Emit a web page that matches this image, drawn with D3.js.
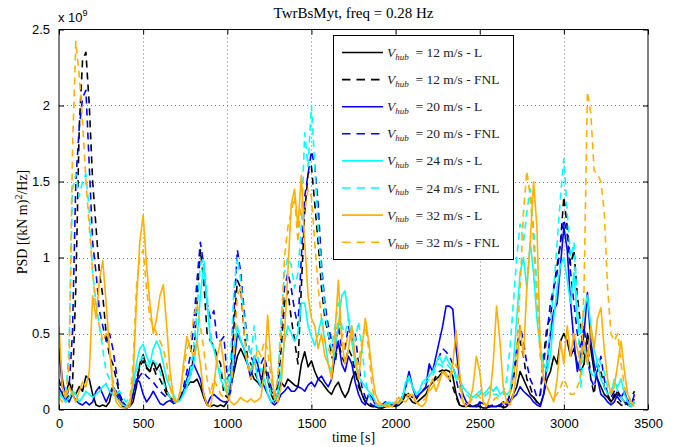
<!DOCTYPE html>
<html>
<head>
<meta charset="utf-8">
<script src="https://cdn.jsdelivr.net/npm/d3@7"></script>
<style>
  html, body { margin: 0; padding: 0; background: #fff; }
  svg { display: block; }
</style>
</head>
<body>
<svg id="chart" width="677" height="447"></svg>
<script>
// Tower-base moment PSD at 0.28 Hz, sampled every 20 s (values in 1e9 (kN m)^2/Hz)
const timeStep = 20;

const l12 = [
  0.40,0.15,0.10,0.18,0.12, 0.10,0.15,0.12,0.22,0.20, 0.10,0.03,0.02,0.03,0.02, 0.05,0.15,0.10,0.05,0.02,
  0.01,0.02,0.05,0.15,0.30, 0.36,0.28,0.25,0.32,0.26, 0.30,0.22,0.12,0.08,0.06, 0.05,0.07,0.12,0.15,0.18,
  0.18,0.20,0.15,0.08,0.03, 0.02,0.03,0.02,0.03,0.02, 0.05,0.15,0.25,0.35,0.40, 0.35,0.30,0.25,0.20,0.18,
  0.15,0.30,0.20,0.10,0.05, 0.10,0.18,0.15,0.20,0.18, 0.16,0.15,0.30,0.38,0.28, 0.32,0.25,0.20,0.18,0.15,
  0.12,0.10,0.15,0.18,0.12, 0.08,0.12,0.20,0.25,0.18, 0.10,0.05,0.03,0.02,0.02, 0.01,0.01,0.02,0.02,0.03,
  0.02,0.03,0.05,0.10,0.08, 0.05,0.04,0.06,0.08,0.10, 0.15,0.18,0.20,0.22,0.25, 0.26,0.25,0.22,0.10,0.03,
  0.02,0.03,0.02,0.02,0.03, 0.02,0.01,0.01,0.02,0.02, 0.02,0.03,0.01,0.02,0.05, 0.10,0.15,0.25,0.20,0.15,
  0.10,0.08,0.05,0.03,0.10, 0.20,0.25,0.35,0.30,0.45, 0.50,0.45,0.35,0.40,0.30, 0.25,0.30,0.50,0.40,0.25,
  0.20,0.15,0.10,0.08,0.05, 0.08,0.12,0.08,0.05,0.03, 0.02,0.05
];
const fnl12 = [
  0.20,0.10,0.05,0.10,0.15, 0.80,1.85,2.30,2.35,2.00, 1.50,1.20,0.90,0.75,0.50, 0.35,0.30,0.20,0.10,0.05,
  0.02,0.03,0.10,0.20,0.28, 0.32,0.27,0.25,0.28,0.22, 0.20,0.15,0.10,0.08,0.06, 0.05,0.08,0.12,0.18,0.22,
  0.35,0.70,1.05,0.85,0.50, 0.45,0.42,0.35,0.30,0.10, 0.08,0.20,0.55,0.85,0.80, 0.50,0.35,0.30,0.25,0.20,
  0.20,0.25,0.20,0.12,0.10, 0.15,0.40,0.70,0.78,0.60, 0.45,0.30,0.80,1.30,1.55, 1.60,1.35,1.10,0.80,0.60,
  0.50,0.35,0.30,0.45,0.35, 0.30,0.40,0.35,0.25,0.15, 0.10,0.05,0.03,0.02,0.02, 0.02,0.01,0.02,0.03,0.02,
  0.03,0.05,0.08,0.12,0.10, 0.08,0.06,0.10,0.12,0.14, 0.16,0.18,0.22,0.25,0.26, 0.24,0.20,0.15,0.08,0.03,
  0.02,0.02,0.03,0.02,0.02, 0.02,0.01,0.02,0.02,0.03, 0.03,0.02,0.02,0.04,0.10, 0.20,0.35,0.45,0.35,0.20,
  0.15,0.08,0.05,0.10,0.35, 0.55,0.60,0.80,0.95,1.10, 1.40,1.20,0.95,1.05,0.75, 0.55,0.30,0.45,0.20,0.10,
  0.30,0.25,0.15,0.10,0.05, 0.10,0.05,0.03,0.02,0.05, 0.08,0.12
];
const l20 = [
  0.40,0.20,0.08,0.05,0.10, 0.06,0.04,0.03,0.05,0.03, 0.05,0.12,0.15,0.10,0.05, 0.10,0.15,0.12,0.08,0.03,
  0.01,0.02,0.10,0.20,0.18, 0.10,0.05,0.08,0.12,0.08, 0.04,0.03,0.05,0.06,0.04, 0.05,0.08,0.12,0.20,0.28,
  0.30,0.25,0.20,0.10,0.03, 0.08,0.10,0.08,0.06,0.05, 0.05,0.12,0.30,0.50,0.45, 0.40,0.30,0.20,0.35,0.30,
  0.20,0.15,0.10,0.05,0.03, 0.05,0.10,0.12,0.15,0.12, 0.12,0.15,0.14,0.12,0.16, 0.18,0.15,0.20,0.22,0.18,
  0.15,0.20,0.35,0.45,0.30, 0.25,0.35,0.30,0.18,0.10, 0.05,0.03,0.10,0.08,0.03, 0.02,0.03,0.05,0.03,0.04,
  0.03,0.05,0.08,0.15,0.25, 0.15,0.08,0.10,0.12,0.15, 0.30,0.25,0.35,0.45,0.55, 0.68,0.68,0.66,0.40,0.20,
  0.10,0.05,0.03,0.02,0.02, 0.05,0.04,0.03,0.02,0.02, 0.02,0.03,0.05,0.03,0.05, 0.08,0.10,0.15,0.12,0.10,
  0.08,0.05,0.03,0.02,0.10, 0.30,0.50,0.65,0.70,0.95, 1.20,1.05,0.70,0.45,0.25, 0.35,0.50,0.77,0.45,0.30,
  0.20,0.10,0.08,0.05,0.03, 0.05,0.10,0.08,0.12,0.05, 0.03,0.10
];
const fnl20 = [
  0.15,0.10,0.05,0.15,0.50, 1.50,1.85,2.05,2.10,1.60, 1.10,0.90,0.65,0.55,0.45, 0.50,0.40,0.25,0.10,0.05,
  0.02,0.05,0.10,0.18,0.22, 0.25,0.22,0.20,0.18,0.15, 0.12,0.10,0.08,0.06,0.05, 0.05,0.08,0.15,0.25,0.35,
  0.55,0.85,1.10,0.95,0.70, 0.60,0.65,0.45,0.45,0.48, 0.20,0.25,0.65,1.05,0.90, 0.65,0.45,0.35,0.30,0.25,
  0.30,0.35,0.25,0.15,0.08, 0.15,0.50,0.80,0.90,0.80, 0.65,0.55,1.00,1.40,1.55, 1.70,1.60,1.35,0.95,0.70,
  0.55,0.45,0.38,0.55,0.40, 0.40,0.55,0.45,0.50,0.30, 0.15,0.08,0.05,0.03,0.02, 0.02,0.03,0.03,0.04,0.03,
  0.03,0.05,0.08,0.15,0.22, 0.15,0.10,0.10,0.12,0.15, 0.28,0.25,0.30,0.35,0.40, 0.38,0.35,0.30,0.20,0.10,
  0.05,0.03,0.03,0.02,0.02, 0.04,0.03,0.02,0.02,0.03, 0.02,0.03,0.04,0.03,0.10, 0.25,0.40,0.55,0.45,0.30,
  0.20,0.15,0.08,0.10,0.30, 0.50,0.70,0.80,0.90,1.10, 1.25,1.15,0.90,0.70,0.50, 0.40,0.55,0.35,0.20,0.15,
  0.25,0.35,0.20,0.10,0.08, 0.12,0.08,0.05,0.03,0.05, 0.08,0.06
];
const l24 = [
  0.10,0.08,0.05,0.08,0.12, 0.10,0.05,0.08,0.12,0.10, 0.08,0.10,0.12,0.15,0.17, 0.12,0.10,0.08,0.05,0.03,
  0.02,0.05,0.15,0.30,0.40, 0.43,0.35,0.30,0.40,0.45, 0.40,0.30,0.20,0.15,0.10, 0.05,0.06,0.10,0.15,0.22,
  0.30,0.45,0.75,0.95,0.70, 0.45,0.40,0.30,0.20,0.15, 0.10,0.20,0.40,0.55,0.45, 0.40,0.30,0.25,0.35,0.20,
  0.15,0.20,0.10,0.05,0.06, 0.10,0.25,0.45,0.55,0.50, 0.45,0.50,0.70,0.70,0.55, 0.48,0.42,0.50,0.60,0.45,
  0.30,0.25,0.40,0.55,0.75, 0.78,0.60,0.45,0.30,0.22, 0.18,0.15,0.12,0.10,0.05, 0.03,0.02,0.04,0.05,0.04,
  0.05,0.04,0.08,0.18,0.22, 0.15,0.10,0.12,0.18,0.20, 0.22,0.25,0.30,0.35,0.30, 0.35,0.30,0.28,0.22,0.20,
  0.15,0.12,0.10,0.08,0.10, 0.12,0.10,0.12,0.15,0.12, 0.15,0.10,0.12,0.10,0.12, 0.30,0.60,0.90,1.00,0.80,
  1.10,0.90,0.60,0.40,0.30, 0.25,0.35,0.60,0.80,0.95, 1.00,0.85,0.70,0.90,0.60, 0.50,0.65,0.75,0.55,0.40,
  0.30,0.20,0.15,0.10,0.12, 0.18,0.15,0.20,0.10,0.05, 0.03,0.05
];
const fnl24 = [
  0.12,0.08,0.10,0.40,1.45, 1.55,1.40,1.50,1.55,1.30, 0.90,0.70,0.55,0.40,0.25, 0.20,0.15,0.10,0.12,0.08,
  0.05,0.08,0.15,0.25,0.32, 0.35,0.30,0.28,0.32,0.30, 0.25,0.18,0.12,0.08,0.05, 0.05,0.06,0.10,0.18,0.25,
  0.40,0.65,0.95,1.00,0.75, 0.50,0.40,0.30,0.25,0.20, 0.15,0.35,0.80,1.00,0.85, 0.60,0.45,0.35,0.55,0.35,
  0.25,0.30,0.20,0.10,0.08, 0.20,0.60,0.90,1.00,0.95, 0.80,0.90,1.20,1.82,1.60, 2.00,1.60,1.20,0.90,0.65,
  0.50,0.40,0.55,0.70,0.55, 0.50,0.60,0.55,0.45,0.58, 0.40,0.20,0.10,0.05,0.03, 0.02,0.03,0.04,0.03,0.05,
  0.05,0.04,0.08,0.15,0.20, 0.15,0.10,0.12,0.15,0.18, 0.20,0.22,0.28,0.30,0.28, 0.30,0.28,0.25,0.20,0.15,
  0.12,0.10,0.08,0.06,0.08, 0.10,0.08,0.10,0.12,0.10, 0.10,0.08,0.10,0.20,0.40, 0.70,1.00,1.22,1.10,1.30,
  1.45,1.20,0.80,0.45,0.25, 0.30,0.55,0.80,1.10,1.40, 1.65,1.30,1.00,1.10,0.70, 0.15,0.40,0.30,0.25,0.20,
  0.35,0.30,0.25,0.15,0.10, 0.20,0.12,0.08,0.05,0.03, 0.02,0.05
];
const l32 = [
  0.55,0.15,0.08,0.15,0.10, 0.05,0.12,0.18,0.15,0.25, 0.75,0.60,0.85,0.98,0.70, 0.40,0.15,0.05,0.02,0.01,
  0.01,0.02,0.20,0.70,1.10, 1.28,0.95,0.70,0.50,0.60, 0.75,0.82,0.55,0.25,0.08, 0.05,0.10,0.30,0.48,0.40,
  0.35,0.45,0.30,0.10,0.03, 0.02,0.15,0.35,0.45,0.30, 0.10,0.05,0.03,0.05,0.08, 0.06,0.05,0.07,0.05,0.06,
  0.08,0.25,0.62,0.30,0.08, 0.05,0.15,0.50,0.90,1.35, 1.45,1.20,1.54,1.10,0.75, 0.60,0.55,0.40,0.50,0.35,
  0.30,0.20,0.50,0.85,0.45, 0.30,0.40,0.55,0.35,0.20, 0.40,0.60,0.45,0.25,0.10, 0.05,0.03,0.02,0.03,0.02,
  0.05,0.08,0.06,0.05,0.08, 0.10,0.05,0.03,0.02,0.05, 0.15,0.20,0.12,0.18,0.25, 0.22,0.20,0.30,0.52,0.25,
  0.05,0.02,0.05,0.15,0.35, 0.25,0.05,0.02,0.08,0.30, 0.68,0.45,0.15,0.05,0.03, 0.10,0.25,0.55,0.35,0.80,
  1.10,1.50,1.20,0.40,0.20, 0.15,0.10,0.05,0.20,0.45, 0.30,0.55,0.35,0.50,0.40, 0.30,0.45,0.30,0.55,0.40,
  0.60,0.67,0.40,0.20,0.10, 0.15,0.30,0.45,0.25,0.10, 0.05,0.02
];
const fnl32 = [
  0.08,0.05,0.10,0.30,1.70, 2.42,2.20,1.90,1.50,1.20, 0.90,0.65,0.55,0.45,0.50, 0.40,0.20,0.10,0.05,0.02,
  0.01,0.05,0.30,0.80,1.00, 1.05,0.80,0.60,0.55,0.50, 0.45,0.40,0.30,0.15,0.06, 0.05,0.12,0.25,0.40,0.45,
  0.60,0.70,0.55,0.40,0.20, 0.10,0.20,0.15,0.10,0.08, 0.06,0.10,0.35,0.75,0.80, 0.50,0.30,0.20,0.30,0.40,
  0.35,0.45,0.40,0.20,0.10, 0.20,0.50,1.00,1.20,1.30, 1.40,1.10,1.35,1.30,1.45, 1.40,1.10,0.80,0.60,0.45,
  0.40,0.35,0.45,0.60,0.50, 0.40,0.50,0.45,0.35,0.30, 0.45,0.55,0.40,0.15,0.05, 0.03,0.02,0.03,0.02,0.03,
  0.04,0.05,0.06,0.08,0.10, 0.08,0.05,0.04,0.05,0.08, 0.12,0.15,0.18,0.20,0.25, 0.24,0.20,0.25,0.30,0.15,
  0.05,0.03,0.04,0.08,0.10, 0.08,0.05,0.03,0.04,0.06, 0.08,0.06,0.04,0.05,0.10, 0.20,0.40,0.80,1.30,1.57,
  1.40,1.10,0.70,0.35,0.20, 0.15,0.10,0.08,0.10,0.15, 0.20,0.15,0.10,0.10,0.15, 0.20,0.80,2.09,1.95,1.57,
  1.55,1.50,1.30,0.80,0.50, 0.45,0.50,0.30,0.15,0.08, 0.05,0.03
];

const speeds = ["12", "12", "20", "20", "24", "24", "32", "32"];
const models = ["L", "FNL", "L", "FNL", "L", "FNL", "L", "FNL"];
const seriesValues = [l12, fnl12, l20, fnl20, l24, fnl24, l32, fnl32];
const seriesColors = ["#000000", "#000000", "#0000ff", "#0000ff", "#00ffff", "#00ffff", "#ffb000", "#ffb000"];

const xTicks = [0, 500, 1000, 1500, 2000, 2500, 3000, 3500];
const yTicks = [0, 0.5, 1, 1.5, 2, 2.5];

const svg = d3.select("#chart");
const plotLeft = 59, plotRight = 648, plotTop = 29.5, plotBottom = 409.5;

const x = d3.scaleLinear().domain([0, 3500]).range([plotLeft, plotRight]);
const y = d3.scaleLinear().domain([0, 2.5]).range([plotBottom, plotTop]);

// dotted grid
const grid = svg.append("g").attr("stroke", "#777").attr("stroke-width", 1).attr("stroke-dasharray", "1,3");
xTicks.slice(1, -1).forEach(t => {
  grid.append("line").attr("x1", Math.round(x(t)) + 0.5).attr("x2", Math.round(x(t)) + 0.5)
    .attr("y1", plotTop).attr("y2", plotBottom);
});
yTicks.slice(1, -1).forEach(t => {
  grid.append("line").attr("y1", Math.round(y(t)) + 0.5).attr("y2", Math.round(y(t)) + 0.5)
    .attr("x1", plotLeft).attr("x2", plotRight);
});

// clip region for the traces
svg.append("clipPath").attr("id", "plotclip")
  .append("rect").attr("x", plotLeft).attr("y", plotTop)
  .attr("width", plotRight - plotLeft).attr("height", plotBottom - plotTop);

const line = d3.line()
  .x((d, i) => x(i * timeStep))
  .y(d => y(d));

const traces = svg.append("g").attr("clip-path", "url(#plotclip)");
seriesValues.forEach((vals, k) => {
  traces.append("path")
    .attr("d", line(vals))
    .attr("fill", "none")
    .attr("stroke", seriesColors[k])
    .attr("stroke-width", 1.6)
    .attr("stroke-linejoin", "round")
    .attr("stroke-dasharray", models[k] === "FNL" ? "7,5" : null);
});

// axes with inward ticks on all sides
const tickLen = 5;
svg.append("g").attr("transform", `translate(0,${plotBottom})`)
  .call(d3.axisBottom(x).tickValues(xTicks).tickSizeInner(-tickLen).tickSizeOuter(0).tickPadding(9).tickFormat(d3.format("d")));
svg.append("g").attr("transform", `translate(0,${plotTop})`)
  .call(d3.axisTop(x).tickValues(xTicks).tickSizeInner(-tickLen).tickSizeOuter(0).tickFormat(""));
svg.append("g").attr("transform", `translate(${plotLeft},0)`)
  .call(d3.axisLeft(y).tickValues(yTicks).tickSizeInner(-tickLen).tickSizeOuter(0).tickPadding(9).tickFormat(d => String(d)));
svg.append("g").attr("transform", `translate(${plotRight},0)`)
  .call(d3.axisRight(y).tickValues(yTicks).tickSizeInner(-tickLen).tickSizeOuter(0).tickFormat(""));

svg.selectAll(".domain").remove();
svg.selectAll(".tick line").attr("stroke", "#000");
svg.selectAll(".tick text").attr("font-family", "Liberation Sans, Arial, sans-serif").attr("font-size", 13).attr("fill", "#000");

svg.append("rect").attr("x", plotLeft).attr("y", plotTop)
  .attr("width", plotRight - plotLeft).attr("height", plotBottom - plotTop)
  .attr("fill", "none").attr("stroke", "#000").attr("stroke-width", 1);

// exponent label
const expo = svg.append("text").attr("x", plotLeft - 1).attr("y", 22)
  .attr("font-family", "Liberation Sans, Arial, sans-serif").attr("font-size", 13);
expo.append("tspan").text("x 10");
expo.append("tspan").attr("font-size", 9).attr("dy", -6).text("9");

// title and axis labels
svg.append("text").attr("x", (plotLeft + plotRight) / 2).attr("y", 18).attr("text-anchor", "middle")
  .attr("font-family", "Liberation Serif, serif").attr("font-size", 15).text("TwrBsMyt, freq = 0.28 Hz");

svg.append("text").attr("x", (plotLeft + plotRight) / 2).attr("y", 442).attr("text-anchor", "middle")
  .attr("font-family", "Liberation Serif, serif").attr("font-size", 14).text("time [s]");

const yl = svg.append("text").attr("transform", `translate(27,222) rotate(-90)`)
  .attr("text-anchor", "middle").attr("font-family", "Liberation Serif, serif").attr("font-size", 14);
yl.append("tspan").text("PSD [(kN m)");
yl.append("tspan").attr("font-size", 10).attr("dy", -5).text("2");
yl.append("tspan").attr("dy", 5).text("/Hz]");

// legend
const lg = svg.append("g");
lg.append("rect").attr("x", 333.5).attr("y", 35.5).attr("width", 180).attr("height", 224)
  .attr("fill", "#fff").attr("stroke", "#000").attr("stroke-width", 1);
seriesValues.forEach((vals, k) => {
  const cy = 52.5 + k * 27.1;
  lg.append("line").attr("x1", 342).attr("x2", 383).attr("y1", cy).attr("y2", cy)
    .attr("stroke", seriesColors[k]).attr("stroke-width", 1.6)
    .attr("stroke-dasharray", models[k] === "FNL" ? "8.5,6" : null);
  const t = lg.append("text").attr("x", 387).attr("y", cy + 4.5)
    .attr("font-family", "Liberation Serif, serif").attr("font-size", 13.5).attr("fill", "#222");
  t.append("tspan").attr("font-style", "italic").text("V");
  t.append("tspan").attr("font-style", "italic").attr("font-size", 9).attr("dy", 2.5).text("hub");
  t.append("tspan").attr("dy", -2.5).text(`\u2002= ${speeds[k]} m/s - ${models[k]}`);
});
</script>
</body>
</html>
